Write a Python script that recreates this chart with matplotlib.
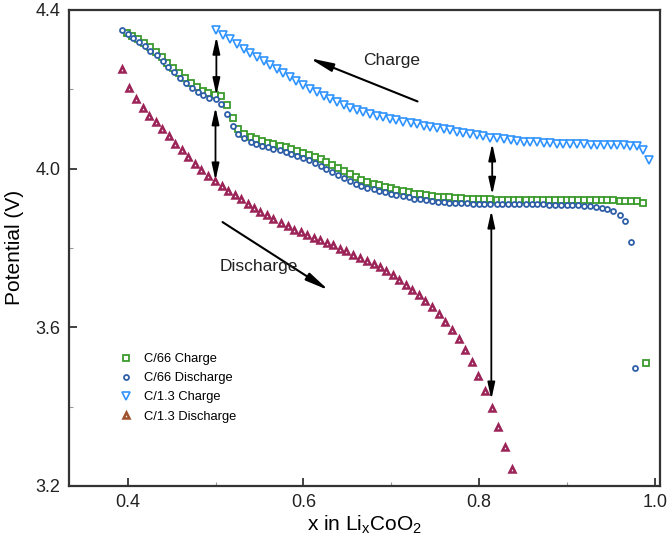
import matplotlib
matplotlib.use("Agg")
import matplotlib.pyplot as plt
from matplotlib.lines import Line2D

plt.rcParams['font.family'] = ['Liberation Sans', 'DejaVu Sans']
plt.rcParams['mathtext.fontset'] = 'custom'
plt.rcParams['mathtext.rm'] = 'Liberation Sans'
plt.rcParams['mathtext.it'] = 'Liberation Sans'

# C/66 charge (green squares)
c66_charge_x = [0.399, 0.405, 0.412, 0.419, 0.425, 0.432, 0.439, 0.445, 0.452, 0.459,
                0.465, 0.472, 0.479, 0.486, 0.492, 0.499,
                0.506, 0.513, 0.520, 0.526, 0.533, 0.540, 0.546, 0.553, 0.560, 0.566,
                0.573, 0.580, 0.586, 0.593, 0.600, 0.606, 0.613, 0.620, 0.626, 0.633,
                0.640, 0.646, 0.653, 0.660, 0.666, 0.673, 0.680, 0.686, 0.693, 0.700,
                0.706, 0.713, 0.720, 0.726, 0.733, 0.740, 0.746, 0.753, 0.760, 0.766,
                0.773, 0.780, 0.786, 0.793, 0.800, 0.806, 0.813, 0.820, 0.826, 0.833,
                0.840, 0.846, 0.853, 0.860, 0.866, 0.873, 0.880, 0.886, 0.893, 0.900,
                0.906, 0.913, 0.920, 0.926, 0.933, 0.940, 0.946, 0.953, 0.960, 0.966,
                0.973, 0.980, 0.987, 0.990]
c66_charge_y = [4.342, 4.335, 4.326, 4.316, 4.305, 4.293, 4.281, 4.267, 4.254, 4.241,
                4.228, 4.216, 4.205, 4.196, 4.190, 4.186,
                4.183, 4.160, 4.128, 4.100, 4.088, 4.080, 4.074, 4.069, 4.065, 4.061,
                4.057, 4.053, 4.049, 4.045, 4.040, 4.035, 4.029, 4.023, 4.016, 4.009,
                4.001, 3.993, 3.985, 3.978, 3.972, 3.967, 3.962, 3.958, 3.954, 3.950,
                3.946, 3.943, 3.940, 3.937, 3.935, 3.933, 3.931, 3.929, 3.928, 3.927,
                3.926, 3.925, 3.924, 3.923, 3.923, 3.922, 3.922, 3.921, 3.921, 3.921,
                3.921, 3.921, 3.921, 3.921, 3.921, 3.921, 3.921, 3.921, 3.921, 3.921,
                3.921, 3.921, 3.921, 3.921, 3.920, 3.920, 3.920, 3.920, 3.919, 3.919,
                3.918, 3.917, 3.912, 3.511]

# C/66 discharge (blue circles)
c66_dis_x = [0.393, 0.400, 0.406, 0.413, 0.420, 0.426, 0.433, 0.440, 0.446, 0.453,
             0.460, 0.466, 0.473, 0.480, 0.486, 0.493, 0.500,
             0.506, 0.513, 0.520, 0.526, 0.533, 0.540, 0.546, 0.553, 0.560, 0.566,
             0.573, 0.580, 0.586, 0.593, 0.600, 0.606, 0.613, 0.620, 0.626, 0.633,
             0.640, 0.646, 0.653, 0.660, 0.666, 0.673, 0.680, 0.686, 0.693, 0.700,
             0.706, 0.713, 0.720, 0.726, 0.733, 0.740, 0.746, 0.753, 0.760, 0.766,
             0.773, 0.780, 0.786, 0.793, 0.800, 0.806, 0.813, 0.820, 0.826, 0.833,
             0.840, 0.846, 0.853, 0.860, 0.866, 0.873, 0.880, 0.886, 0.893, 0.900,
             0.906, 0.913, 0.920, 0.926, 0.933, 0.940, 0.946, 0.953, 0.960, 0.966,
             0.973, 0.977]
c66_dis_y = [4.349, 4.338, 4.329, 4.319, 4.309, 4.297, 4.285, 4.271, 4.257, 4.243,
             4.229, 4.215, 4.203, 4.192, 4.184, 4.178, 4.175,
             4.163, 4.137, 4.107, 4.087, 4.076, 4.066, 4.061, 4.057, 4.053, 4.050,
             4.046, 4.042, 4.037, 4.032, 4.027, 4.021, 4.014, 4.007, 3.999, 3.991,
             3.983, 3.975, 3.968, 3.962, 3.957, 3.952, 3.948, 3.944, 3.940, 3.936,
             3.933, 3.930, 3.927, 3.924, 3.922, 3.920, 3.918, 3.916, 3.915, 3.914,
             3.913, 3.912, 3.912, 3.911, 3.911, 3.911, 3.911, 3.910, 3.910, 3.910,
             3.910, 3.910, 3.910, 3.910, 3.910, 3.910, 3.909, 3.909, 3.909, 3.908,
             3.908, 3.907, 3.906, 3.905, 3.903, 3.900, 3.898, 3.894, 3.884, 3.868,
             3.816, 3.497]

# C/1.3 charge (light blue down triangles)
c13_charge_x = [0.501, 0.509, 0.517, 0.524, 0.532, 0.539, 0.547, 0.555, 0.562, 0.570,
                0.577, 0.585, 0.592, 0.600, 0.608, 0.615, 0.623, 0.630, 0.638, 0.646,
                0.653, 0.661, 0.668, 0.676, 0.684, 0.691, 0.699, 0.706, 0.714, 0.722,
                0.729, 0.737, 0.744, 0.752, 0.760, 0.767, 0.775, 0.782, 0.790, 0.798,
                0.805, 0.813, 0.820, 0.828, 0.836, 0.843, 0.851, 0.858, 0.866, 0.874,
                0.881, 0.889, 0.896, 0.904, 0.912, 0.919, 0.927, 0.934, 0.942, 0.950,
                0.957, 0.965, 0.972, 0.980, 0.987, 0.994]
c13_charge_y = [4.349, 4.337, 4.327, 4.315, 4.302, 4.291, 4.281, 4.272, 4.262, 4.251,
                4.241, 4.231, 4.221, 4.211, 4.201, 4.192, 4.183, 4.175, 4.167, 4.159,
                4.153, 4.147, 4.142, 4.137, 4.133, 4.129, 4.125, 4.121, 4.118, 4.114,
                4.111, 4.108, 4.105, 4.102, 4.099, 4.096, 4.093, 4.090, 4.087, 4.084,
                4.081, 4.078, 4.076, 4.074, 4.072, 4.070, 4.068, 4.067, 4.066, 4.065,
                4.064, 4.063, 4.062, 4.062, 4.061, 4.061, 4.060, 4.060, 4.059, 4.059,
                4.058, 4.058, 4.057, 4.056, 4.047, 4.021]

# C/1.3 discharge (maroon triangles)
c13_dis_x = [0.394, 0.402, 0.409, 0.417, 0.424, 0.432, 0.439, 0.447, 0.454, 0.462,
             0.469, 0.477, 0.484, 0.492, 0.499, 0.507, 0.514, 0.522, 0.529, 0.537,
             0.544, 0.551, 0.559, 0.566, 0.574, 0.582, 0.589, 0.597, 0.604, 0.612,
             0.619, 0.627, 0.634, 0.642, 0.649, 0.657, 0.664, 0.672, 0.680, 0.687,
             0.694, 0.702, 0.709, 0.717, 0.724, 0.732, 0.739, 0.746, 0.754, 0.761,
             0.769, 0.777, 0.784, 0.792, 0.799, 0.807, 0.815, 0.822, 0.830, 0.838]
c13_dis_y = [4.251, 4.204, 4.175, 4.152, 4.132, 4.116, 4.099, 4.082, 4.063, 4.046,
             4.028, 4.011, 3.996, 3.980, 3.968, 3.955, 3.944, 3.932, 3.922, 3.911,
             3.901, 3.890, 3.882, 3.873, 3.863, 3.855, 3.846, 3.840, 3.833, 3.825,
             3.819, 3.813, 3.806, 3.797, 3.791, 3.782, 3.774, 3.768, 3.759, 3.751,
             3.741, 3.732, 3.720, 3.707, 3.694, 3.681, 3.667, 3.650, 3.633, 3.614,
             3.593, 3.570, 3.543, 3.512, 3.478, 3.439, 3.397, 3.349, 3.299, 3.243]

labels = ["C/66 Charge", "C/66 Discharge", "C/1.3 Charge", "C/1.3 Discharge"]

GREEN = "#3a9b2c"
BLUE = "#2f5fa8"
LBLUE = "#2f93ff"
MAROON = "#9c2357"
BROWN = "#a0522d"

fig = plt.figure(figsize=(6.68, 5.43), dpi=100)
ax = fig.add_axes([0.103, 0.105, 0.885, 0.877])

ax.plot(c66_charge_x, c66_charge_y, ls="none", marker="s", ms=4.8, mfc="white",
        mec=GREEN, mew=1.3)
ax.plot(c66_dis_x, c66_dis_y, ls="none", marker="o", ms=3.6, mfc="white",
        mec=BLUE, mew=1.3)
ax.plot(c13_charge_x, c13_charge_y, ls="none", marker="v", ms=6, mfc="white",
        mec=LBLUE, mew=1.2)
ax.plot(c13_dis_x, c13_dis_y, ls="none", marker="^", ms=4.6, mfc="white",
        mec=MAROON, mew=1.8)

ax.set_xlim(0.333, 1.006)
ax.set_ylim(3.2, 4.4)
ax.set_xticks([0.4, 0.6, 0.8, 1.0])
ax.set_xticks([0.5, 0.7, 0.9], minor=True)
ax.set_yticks([3.2, 3.6, 4.0, 4.4])
ax.set_yticks([3.4, 3.8, 4.2], minor=True)
ax.set_xticklabels(["0.4", "0.6", "0.8", "1.0"])
ax.set_yticklabels(["3.2", "3.6", "4.0", "4.4"])
ax.tick_params(direction="in", length=6, width=1.2, labelsize=13, colors="#222222", pad=6)
ax.tick_params(which="minor", direction="in", length=3, width=0.8, colors="#999999")
for s in ax.spines.values():
    s.set_linewidth(1.6)
    s.set_color("#333333")

ax.set_xlabel(r"x in Li$_\mathregular{x}$CoO$_\mathregular{2}$", fontsize=15, labelpad=2)
ax.set_ylabel("Potential (V)", fontsize=15, labelpad=8)

# double-headed arrows showing the overpotentials
arr = dict(arrowstyle="<|-|>,head_length=1.0,head_width=0.22", color="black",
           lw=1.3, shrinkA=0, shrinkB=0, mutation_scale=10)
ax.annotate("", xy=(0.501, 4.332), xytext=(0.501, 4.185), arrowprops=arr)
ax.annotate("", xy=(0.500, 4.154), xytext=(0.500, 3.970), arrowprops=arr)
ax.annotate("", xy=(0.815, 4.063), xytext=(0.815, 3.934), arrowprops=arr)
ax.annotate("", xy=(0.814, 3.894), xytext=(0.814, 3.418), arrowprops=arr)

one = dict(arrowstyle="-|>,head_length=1.4,head_width=0.25", color="black",
           lw=1.5, shrinkA=0, shrinkB=0, mutation_scale=10)
ax.annotate("", xy=(0.607, 4.278), xytext=(0.730, 4.169), arrowprops=one)
ax.annotate("", xy=(0.629, 3.693), xytext=(0.508, 3.865), arrowprops=one)
ax.text(0.701, 4.273, "Charge", fontsize=12.5, ha="center", va="center", color="#222222")
ax.text(0.549, 3.752, "Discharge", fontsize=12.5, ha="center", va="center", color="#222222")

handles = [
    Line2D([], [], ls="none", marker="s", ms=4.8, mfc="white", mec=GREEN, mew=1.3),
    Line2D([], [], ls="none", marker="o", ms=3.6, mfc="white", mec=BLUE, mew=1.3),
    Line2D([], [], ls="none", marker="v", ms=6, mfc="white", mec=LBLUE, mew=1.2),
    Line2D([], [], ls="none", marker="^", ms=4.6, mfc="white", mec=BROWN, mew=1.8),
]
ax.legend(handles, labels, loc="upper left", bbox_to_anchor=(0.077, 0.29),
          frameon=False, fontsize=9.3, handlelength=1.0, handletextpad=0.9,
          labelspacing=0.55, borderaxespad=0)

fig.savefig("out.png", dpi=100)
